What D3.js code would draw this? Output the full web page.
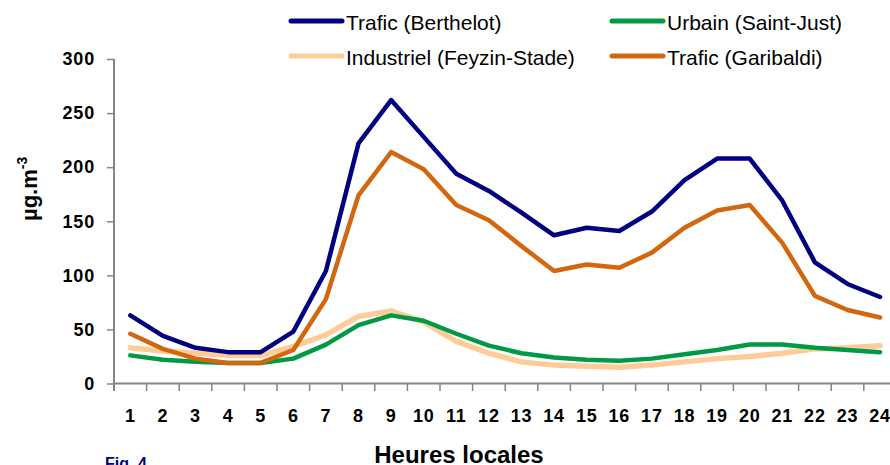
<!DOCTYPE html>
<html><head><meta charset="utf-8">
<script src="https://cdn.jsdelivr.net/npm/d3@7/dist/d3.min.js"></script>
<style>
body{margin:0;background:#fff;}
svg{display:block;font-family:Arial,"Liberation Sans",sans-serif;}
</style></head>
<body><svg id="c" width="890" height="465"></svg>
<script>
const hours = d3.range(1,25);
const yTicks = [0,50,100,150,200,250,300];
const berthelot = [63,44,33,29,29,48,104,222,262,228,194,178,158,137,144,141,159,188,208,208,169,112,92,80];
const saintJust = [26,22,20,19,19,23,36,54,63,58,46,35,28,24,22,21,23,27,31,36,36,33,31,29];
const feyzin    = [33,30,28,26,26,34,45,62,67,57,39,28,20,17,16,15,17,20,23,25,28,32,33,35];
const garibaldi = [46,32,23,19,19,31,78,174,214,198,165,151,127,104,110,107,121,144,160,165,130,81,68,61];

const series = [
  {name:"Trafic (Berthelot)", values:berthelot, color:"#000080", w:4.5},
  {name:"Urbain (Saint-Just)", values:saintJust, color:"#009A44", w:4.5},
  {name:"Industriel (Feyzin-Stade)", values:feyzin, color:"#FFCC99", w:5.5},
  {name:"Trafic (Garibaldi)", values:garibaldi, color:"#D2670F", w:4.5}
];
const drawOrder = [2,1,3,0];

const svg = d3.select("#c");
const x = d3.scaleBand().domain(hours).range([114, 114+24*32.6]).paddingInner(0).paddingOuter(0);
const y = d3.scaleLinear().domain([0,300]).range([383.5, 59]);
const axisColor = "#868686";

// y axis
const gy = svg.append("g").attr("transform","translate(114,0)")
  .call(d3.axisLeft(y).tickValues(yTicks).tickSize(7).tickPadding(12).tickSizeOuter(0));
gy.select(".domain").remove();
gy.selectAll(".tick line").attr("stroke",axisColor).attr("stroke-width",1.5);
gy.selectAll(".tick text").attr("fill","#000").style("font-size","18px").style("font-weight","bold")
  .style("letter-spacing","0.8px").attr("font-family",null);
svg.append("line").attr("x1",114).attr("x2",114).attr("y1",y(300)).attr("y2",391)
  .attr("stroke",axisColor).attr("stroke-width",2);

// x axis
svg.append("line").attr("x1",113).attr("x2",900).attr("y1",y(0)).attr("y2",y(0))
  .attr("stroke",axisColor).attr("stroke-width",2);
svg.append("g").selectAll("line").data(hours.concat([25])).join("line")
  .attr("x1",d=> d<=24 ? x(d) : x(24)+x.bandwidth())
  .attr("x2",d=> d<=24 ? x(d) : x(24)+x.bandwidth())
  .attr("y1",y(0)).attr("y2",391).attr("stroke",axisColor).attr("stroke-width",1.5);
const gx = svg.append("g").attr("transform",`translate(0,${y(0)})`)
  .call(d3.axisBottom(x).tickSize(0).tickPadding(26));
gx.select(".domain").remove();
gx.selectAll(".tick text").attr("fill","#000").style("font-size","18px").style("font-weight","bold")
  .style("letter-spacing","0.8px").attr("font-family",null);

// lines
const line = d3.line().x((d,i)=>x(hours[i])+x.bandwidth()/2).y(d=>y(d));
drawOrder.forEach(k=>{
  const s = series[k];
  svg.append("path").datum(s.values).attr("d",line).attr("fill","none")
    .attr("stroke",s.color).attr("stroke-width",s.w).attr("stroke-linejoin","round").attr("stroke-linecap","round");
});

// legend
const legPos = [[291,21,30],[612,21,30],[291,56,65],[612,56,65]];
series.forEach((s,i)=>{
  const [lx,ly,tb] = legPos[i];
  svg.append("line").attr("x1",lx).attr("x2",lx+51).attr("y1",ly).attr("y2",ly)
    .attr("stroke",s.color).attr("stroke-width",5).attr("stroke-linecap","round");
  svg.append("text").attr("x",lx+55).attr("y",tb).text(s.name)
    .style("font-size","21px").attr("fill","#000");
});

// axis titles
const yt = svg.append("text").attr("transform","translate(37,221) rotate(-90)")
  .style("font-size","22px").style("font-weight","bold").attr("fill","#000");
yt.append("tspan").text("µg.m");
yt.append("tspan").text("-3").attr("dy",-10).style("font-size","14px");

svg.append("text").attr("x",459).attr("y",463).attr("text-anchor","middle")
  .style("font-size","24px").style("font-weight","bold").attr("fill","#000").text("Heures locales");

svg.append("text").attr("x",105).attr("y",469).style("font-size","16px").style("font-weight","bold")
  .attr("fill","#000080").text("Fig. 4");
</script></body></html>
